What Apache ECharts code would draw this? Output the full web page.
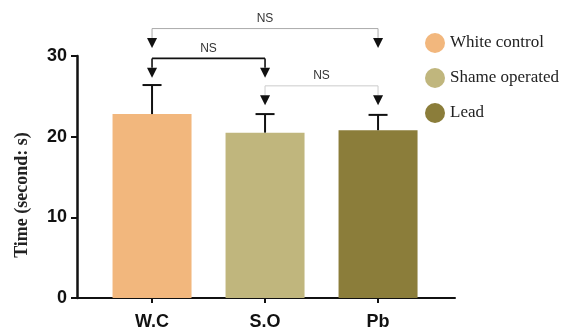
<!DOCTYPE html>
<html>
<head>
<meta charset="utf-8">
<script src="https://cdn.jsdelivr.net/npm/echarts@6/dist/echarts.min.js"></script>
<style>html,body{margin:0;padding:0;background:#fff}#c{width:571px;height:331px}</style>
</head>
<body>
<div id="c"></div>
<script>
var categories = ['W.C', 'S.O', 'Pb'];
var seriesNames = ['White control', 'Shame operated', 'Lead'];
var means = [22.8, 20.5, 20.8];
var errors = [3.6, 2.3, 1.9];
var yTicks = [0, 10, 20, 30];
var bracketFrom = [0, 0, 1];
var bracketTo = [2, 1, 2];
var bracketLevel = [33.4, 29.7, 26.3];
var bracketTip = [31.0, 27.3, 23.9];
var bracketLabels = ['NS', 'NS', 'NS'];

var colors = ['#F2B77D', '#C0B67D', '#8B7D3A'];
var bracketLineColors = ['#aaaaaa', '#111111', '#cccccc'];
var bracketLineWidths = [1, 1.6, 1];

var chart = echarts.init(document.getElementById('c'));

var barSeries = categories.map(function (c, i) {
  return {
    name: seriesNames[i],
    type: 'bar',
    stack: 'all',
    barWidth: 79,
    itemStyle: { color: colors[i] },
    data: [[i, means[i]]],
    z: 2
  };
});

var errData = categories.map(function (c, i) { return [i, means[i], means[i] + errors[i]]; });
var bracketData = bracketFrom.map(function (f, i) { return [f, bracketTo[i], bracketLevel[i], bracketTip[i], i]; });

var option = {
  animation: false,
  backgroundColor: '#fff',
  grid: { left: 77, right: 116, top: 56, bottom: 28 },
  legend: {
    orient: 'vertical',
    left: 425,
    top: 33,
    padding: 0,
    icon: 'circle',
    itemWidth: 20,
    itemHeight: 20,
    itemGap: 15,
    data: seriesNames,
    textStyle: { fontFamily: 'Liberation Serif', fontSize: 17, color: '#222' }
  },
  xAxis: {
    type: 'value',
    min: -0.664,
    max: 2.681,
    splitLine: { show: false },
    axisLine: { onZero: false, lineStyle: { color: '#111', width: 2 } },
    axisTick: { show: true, length: 5, lineStyle: { color: '#111', width: 2 }, customValues: [0, 1, 2] },
    axisLabel: {
      customValues: [0, 1, 2],
      formatter: function (v) { return categories[Math.round(v)]; },
      fontFamily: 'Liberation Sans', fontWeight: 'bold', fontSize: 18, color: '#111', margin: 15
    }
  },
  yAxis: {
    type: 'value',
    min: 0,
    max: 30,
    interval: 10,
    name: 'Time (second: s)',
    nameLocation: 'middle',
    nameRotate: 90,
    nameGap: 46,
    nameTextStyle: { fontFamily: 'Liberation Serif', fontWeight: 'bold', fontSize: 18, color: '#222', padding: [0, 36, 0, 0] },
    splitLine: { show: false },
    axisLine: { show: true, onZero: false, lineStyle: { color: '#111', width: 2.5 } },
    axisTick: { show: true, length: 6, lineStyle: { color: '#111', width: 2 } },
    axisLabel: { fontFamily: 'Liberation Sans', fontWeight: 'bold', fontSize: 18, color: '#111', margin: 10 }
  },
  series: barSeries.concat([
    {
      type: 'custom',
      name: 'err',
      data: errData,
      z: 5,
      renderItem: function (params, api) {
        var x = api.value(0);
        var p0 = api.coord([x, api.value(1)]);
        var p1 = api.coord([x, api.value(2)]);
        var hw = 9.5;
        return {
          type: 'group',
          children: [
            { type: 'line', shape: { x1: p0[0], y1: p0[1], x2: p1[0], y2: p1[1] }, style: { stroke: '#111', lineWidth: 2 } },
            { type: 'line', shape: { x1: p1[0] - hw, y1: p1[1], x2: p1[0] + hw, y2: p1[1] }, style: { stroke: '#111', lineWidth: 2 } }
          ]
        };
      }
    },
    {
      type: 'custom',
      name: 'brackets',
      data: bracketData,
      clip: false,
      z: 6,
      renderItem: function (params, api) {
        var idx = api.value(4);
        var a = api.coord([api.value(0), api.value(2)]);
        var b = api.coord([api.value(1), api.value(2)]);
        var tipY = api.coord([0, api.value(3)])[1];
        var lc = bracketLineColors[idx];
        var lw = bracketLineWidths[idx];
        var ah = 10, aw = 5;
        function arrow(x) {
          return [
            { type: 'line', shape: { x1: x, y1: a[1], x2: x, y2: tipY - ah }, style: { stroke: lc, lineWidth: lw } },
            { type: 'polygon', shape: { points: [[x - aw, tipY - ah], [x + aw, tipY - ah], [x, tipY]] }, style: { fill: '#111' } }
          ];
        }
        var children = [
          { type: 'line', shape: { x1: a[0], y1: a[1], x2: b[0], y2: b[1] }, style: { stroke: lc, lineWidth: lw } }
        ].concat(arrow(a[0])).concat(arrow(b[0]));
        children.push({
          type: 'text',
          style: {
            text: bracketLabels[idx], x: (a[0] + b[0]) / 2, y: a[1] - 4,
            align: 'center', verticalAlign: 'bottom',
            font: '12px "Liberation Sans"', fill: '#333'
          }
        });
        return { type: 'group', children: children };
      }
    }
  ])
};
chart.setOption(option);
</script>
</body>
</html>
